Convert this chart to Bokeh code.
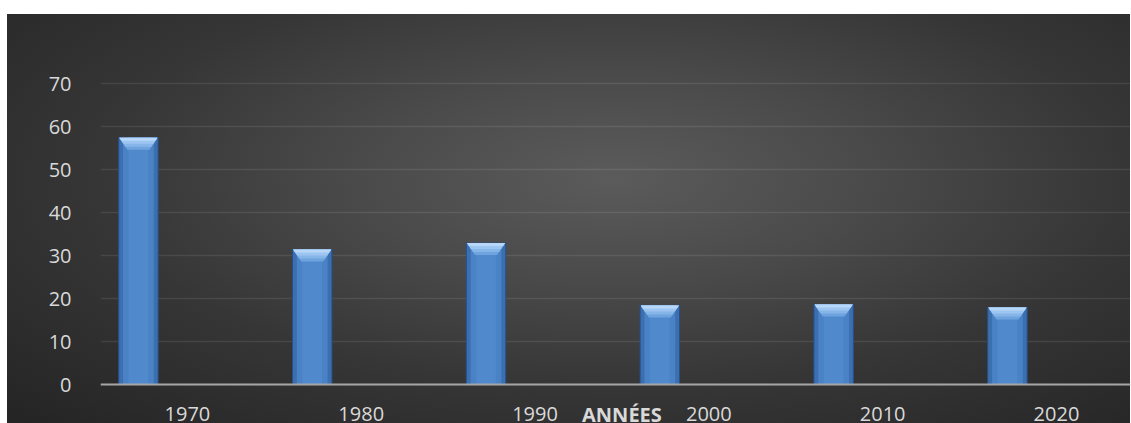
from bokeh.plotting import figure
from bokeh.models import Range1d, FixedTicker, ColumnDataSource
from bokeh.core.properties import value
from bokeh.embed import file_html
from bokeh.resources import INLINE

# Decades and their values
years = ["1970", "1980", "1990", "2000", "2010", "2020"]
values = [57.4, 31.4, 32.9, 18.4, 18.6, 17.9]
y_ticks = [0, 10, 20, 30, 40, 50, 60, 70]
x_title = "ANNÉES"

# category layout: one unit per decade, bar drawn left of the category centre
centers = [i + 0.5 for i in range(len(years))]
bar_offset = -0.282
bar_width = 0.227
bar_x = [c + bar_offset for c in centers]

# frame runs from the top strip down to the bottom edge; value 0 sits 39px above it
px_per_unit_y = 370.0 / 86.1
px_per_unit_x = 1030.0 / 5.926
y_bottom = -39 / px_per_unit_y

p = figure(
    width=1131, height=423,
    output_backend="svg", toolbar_location=None,
    x_range=Range1d(0, 5.926), y_range=Range1d(y_bottom, 86.1),
    min_border_left=100, min_border_right=1,
    min_border_top=14, min_border_bottom=0,
    styles={
        "background": "radial-gradient(ellipse farthest-corner at 54% 40%, "
                      "#5b5b5b 0%, #4a4a4a 30%, #363636 60%, #242424 100%) "
                      "7px 14px / 1123px 409px no-repeat, #ffffff",
    },
)
p.background_fill_alpha = 0
p.border_fill_alpha = 0
p.outline_line_color = None

# bar bodies
src = ColumnDataSource(dict(x=bar_x, top=values))
p.vbar(x="x", top="top", width=bar_width, source=src,
       fill_color="#3b6fb0", line_color="#27508a", line_width=1)
p.vbar(x="x", top="top", width=bar_width * 0.78, source=src,
       fill_color="#4a82c6", line_color=None)
p.vbar(x="x", top="top", width=bar_width * 0.5, source=src,
       fill_color="#5089cc", line_color=None)

# bevelled top of each bar, drawn in bands from dark to light
bevel_h = 12 / px_per_unit_y
inset = 8 / px_per_unit_x
bands = [(1.0, "#6fa3dd"), (0.75, "#86b5e9"), (0.5, "#9dc5f1"), (0.25, "#b8d7f8")]
for frac, col in bands:
    xs, ys = [], []
    for x, v in zip(bar_x, values):
        l, r = x - bar_width / 2 + 0.004, x + bar_width / 2 - 0.004
        xs.append([l, r, r - inset * frac, l + inset * frac])
        ys.append([v, v, v - bevel_h * frac, v - bevel_h * frac])
    p.patches(xs, ys, fill_color=col, line_color=None)

# x axis sits on value 0 inside the frame
p.xaxis.fixed_location = 0
p.xaxis.ticker = FixedTicker(ticks=centers)
p.xaxis.major_label_overrides = {c: y for c, y in zip(centers, years)}
p.xaxis.major_tick_line_color = None
p.xaxis.minor_tick_line_color = None
p.xaxis.axis_line_color = "#a6a6a6"
p.xaxis.axis_line_width = 2
p.xaxis.major_label_standoff = 16
p.xaxis.major_label_text_font = "Open Sans"
p.xaxis.major_label_text_font_size = "20px"
p.xaxis.major_label_text_color = "#d9d9d9"

# axis title, centred under the six decades
p.text(x=[len(years) / 2], y=[-30 / px_per_unit_y], text=[x_title],
       text_align="center", text_baseline="alphabetic",
       text_font=value("Open Sans"), text_font_style="bold",
       text_font_size="20px", text_color="#d9d9d9")

p.yaxis.ticker = FixedTicker(ticks=y_ticks)
p.yaxis.major_tick_line_color = None
p.yaxis.minor_tick_line_color = None
p.yaxis.axis_line_color = None
p.yaxis.major_label_standoff = 23
p.yaxis.major_label_text_font = "Open Sans"
p.yaxis.major_label_text_font_size = "20px"
p.yaxis.major_label_text_color = "#d9d9d9"

p.xgrid.grid_line_color = None
p.ygrid.grid_line_color = "#ffffff"
p.ygrid.grid_line_alpha = 0.09
p.ygrid.grid_line_width = 1.5

open("out.html", "w").write(file_html(p, INLINE))
